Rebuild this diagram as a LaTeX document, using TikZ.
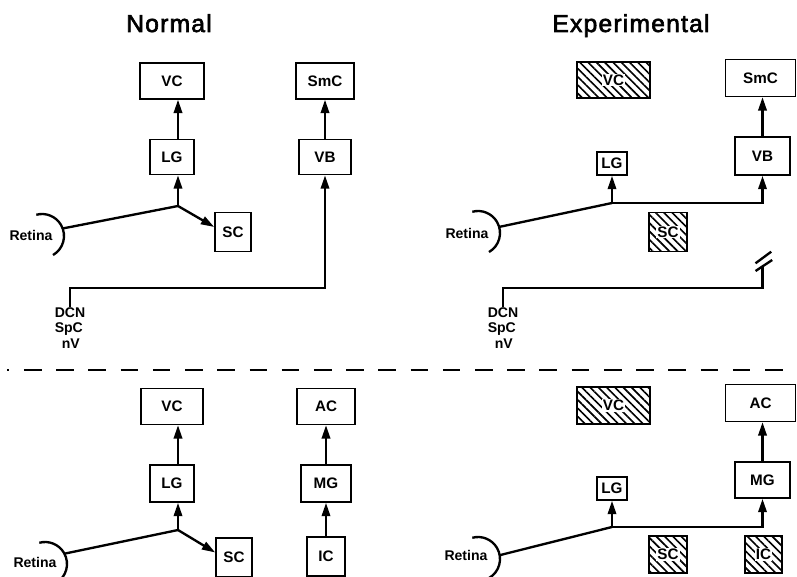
\documentclass[tikz,border=0pt]{standalone}
\usepackage{fontspec}
\setmainfont{Liberation Sans}
\usetikzlibrary{arrows.meta,positioning,patterns.meta}

\tikzset{sz/.style 2 args={minimum width=#1*0.3mm, minimum height=#2*0.3mm}}
\newcommand{\hl}[1]{{\setlength{\fboxsep}{0.8pt}\colorbox{white}{#1}}}

\begin{document}
\begin{tikzpicture}[
  x=0.03cm, y=0.03cm,
  node distance=11.7mm,
  >={Triangle[length=4mm, width=2.5mm]},
  every node/.style={font=\bfseries\fontsize{12}{13.6}\selectfont, inner sep=0pt},
  box/.style={draw, line width=1.4pt, font=\bfseries\fontsize{13}{15}\selectfont},
  hatch/.style={box, pattern={Lines[angle=-45, distance=5pt, line width=1.4pt]}},
  eye/.style={circle, minimum size=13.2mm, outer sep=0pt},
  wire/.style={line width=2pt},
  heading/.style={font=\fontsize{21}{25}\selectfont\addfontfeature{LetterSpace=5,FakeBold=2.5}, anchor=base}
]
\useasboundingbox (0,0) rectangle (797,576);

\node[heading] (ttlN) at (169,544) {Normal};
\node[heading] (ttlE) at (631,544) {Experimental};

% normal, visual and somatic
\node[box, sz={44}{35}] (lgN) at (172,419) {LG};
\node[box, sz={64}{36}, above=of lgN] (vcN) {VC};
\node[box, sz={36}{39}] (scN) at (233,344) {SC};
\node[box, sz={52}{35}] (vbN) at (325,419) {VB};
\node[box, sz={58}{36}, above=of vbN] (smcN) {SmC};
\node[eye] (eyeN) at (42,340) {};
\node (retN) at (31,341) {Retina};
\node[anchor=north, align=left] (dcnN) at (70,269) {DCN\\SpC\\\hspace*{6pt}nV};
\coordinate (jN) at (178,370);
\coordinate (cN) at (325,288);

\draw[wire] (eyeN.-60) arc[start angle=-60, end angle=105, radius=6.6mm];
\draw[wire] (eyeN.20) -- (jN);
\draw[wire,->] (jN) -- (jN |- lgN.south);
\draw[wire,->] (lgN.north -| jN) -- (vcN.south -| jN);
\draw[wire,->] (jN) -- (scN.165);
\draw[wire,->] (vbN) -- (smcN);
\draw[wire,->] (dcnN.north) |- (cN) -- (vbN.south);

% experimental, visual and somatic
\node[hatch, sz={73}{36}] (vcE) at (613.5,496) {\hl{VC}};
\node[box, sz={55}{38}] (vbE) at (762.5,420) {VB};
\node[box, sz={70}{37}, above=of vbE, xshift=-0.6mm] (smcE) {SmC};
\node[box, sz={30}{23}] (lgE) at (612,412.5) {LG};
\node[hatch, sz={38}{39}] (scE) at (668,344) {\hl{SC}};
\node[eye] (eyeE) at (478,343) {};
\node (retE) at (467,343) {Retina};
\node[anchor=north, align=left] (dcnE) at (503,269) {DCN\\SpC\\\hspace*{6pt}nV};
\coordinate (jE) at (612,373);
\coordinate (cE) at (762.5,288);
\coordinate (brE) at (762.5,309);

\draw[wire] (eyeE.-60) arc[start angle=-60, end angle=105, radius=6.6mm];
\draw[wire] (eyeE.16) -- (jE);
\draw[wire,->] (jE) -- (lgE);
\draw[wire,->] (jE) -| (vbE.south);
\draw[wire,->] (vbE) -- (vbE |- smcE.south);
\draw[wire] (dcnE.north) |- (cE) -- (brE);
\draw[wire] (brE) ++(-7,-4) -- ++(16.7,11);
\draw[wire] (brE) ++(-7,3.7) -- ++(15.7,11.6);

\draw[line width=1.8pt, dash pattern=on 15pt off 12.5pt, dash phase=13pt] (7,206) -- (797,206);

% normal, visual and auditory
\node[box, sz={44}{37}] (lgN2) at (172,92.5) {LG};
\node[box, sz={62}{36}, above=of lgN2] (vcN2) {VC};
\node[box, sz={36}{39}] (scN2) at (234,18.5) {SC};
\node[box, sz={50}{37}] (mgN2) at (326,92.5) {MG};
\node[box, sz={58}{36}, above=of mgN2] (acN2) {AC};
\node[box, sz={38}{39}] (icN2) at (326,19.5) {IC};
\node[eye] (eyeN2) at (45,12) {};
\node (retN2) at (35,14) {Retina};
\coordinate (jN2) at (178,46);

\draw[wire] (eyeN2.-60) arc[start angle=-60, end angle=105, radius=6.6mm];
\draw[wire] (eyeN2.28) -- (jN2);
\draw[wire,->] (jN2) -- (jN2 |- lgN2.south);
\draw[wire,->] (lgN2.north -| jN2) -- (vcN2.south -| jN2);
\draw[wire,->] (jN2) -- (scN2.165);
\draw[wire,->] (icN2) -- (mgN2);
\draw[wire,->] (mgN2) -- (acN2);

% experimental, visual and auditory
\node[hatch, sz={73}{37}] (vcE2) at (613.5,170.5) {\hl{VC}};
\node[box, sz={55}{36}] (mgE2) at (762.5,96) {MG};
\node[box, sz={70}{37}, above=of mgE2, xshift=-0.6mm] (acE2) {AC};
\node[box, sz={30}{23}] (lgE2) at (612,87.5) {LG};
\node[hatch, sz={38}{37}] (scE2) at (668,21.5) {\hl{SC}};
\node[hatch, sz={37}{37}] (icE2) at (763.5,21.5) {\hl{IC}};
\node[eye] (eyeE2) at (478,17) {};
\node (retE2) at (466,21) {Retina};
\coordinate (jE2) at (612,49);

\draw[wire] (eyeE2.-60) arc[start angle=-60, end angle=105, radius=6.6mm];
\draw[wire] (eyeE2.10) -- (jE2);
\draw[wire,->] (jE2) -- (lgE2);
\draw[wire,->] (jE2) -| (mgE2.south);
\draw[wire,->] (mgE2) -- (mgE2 |- acE2.south);

\end{tikzpicture}
\end{document}
